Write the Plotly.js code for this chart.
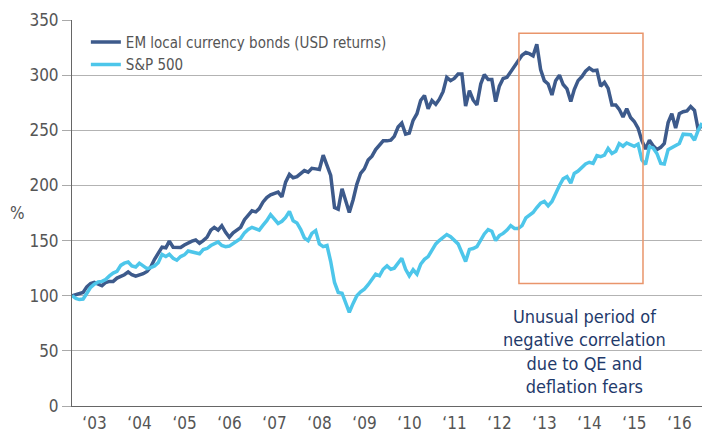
<!DOCTYPE html>
<html>
<head>
<meta charset="utf-8">
<script src="https://cdn.plot.ly/plotly-3.0.1.min.js"></script>
<style>html,body{margin:0;padding:0;background:#fff;}#chart{width:705px;height:434px;}</style>
</head>
<body>
<div id="chart"></div>
<script>
// Monthly index values, Jan 2003 = 100
const seriesNames = ['EM local currency bonds (USD returns)', 'S&P 500'];
const emBonds = [
  100, 101, 102, 103, 108, 111, 112, 110.5, 109, 112,
  113, 113, 116, 117.5, 119, 121.6, 119, 117.8, 118.5, 120,
  122, 126, 133, 138, 144, 143.5, 149.5, 144, 143.7, 143.7,
  146, 148, 149.5, 150.5, 147.5, 150, 153, 159.5, 162, 159.5,
  163.5, 157.5, 153, 157, 159.5,
  162, 169, 173, 177, 176,
  179, 185, 189, 191.5, 192.5, 194, 189.6, 203, 210, 207,
  208, 211, 213.5, 212, 215.5, 215, 214.5, 227.4, 219, 209,
  180, 178.5, 197, 186, 175.5, 187, 201, 211, 215, 223,
  226.5, 232.5, 236, 240.5, 240.4, 241, 244.5, 253, 256.5, 246.5,
  247.5, 259,
  265, 277, 281.5, 269.5, 277, 273.5, 278, 285,
  298, 295, 297, 301, 301, 272, 286, 277.5, 273, 292,
  300.5, 296, 296, 276, 290, 297, 298, 303, 307.5, 312,
  318, 320.5, 319.5, 317.5, 328, 305, 295, 292, 282,
  295, 300, 291.5, 287.5, 276, 287, 295, 298.5, 303.5, 306.5, 304,
  304.5, 290, 293.5, 288, 273, 273, 269, 262, 269.5, 261.6,
  258, 252, 240.5, 233, 241, 236, 232.5, 234.5, 238, 257,
  265, 252, 265, 266.8, 267.6, 271.5, 268, 250.5, 255
];
const sp500 = [
  100, 97.5, 96.5, 97, 102, 107.5, 110.5, 112.5, 113, 114.7,
  118, 120.5, 122, 127.5, 129.5, 130.5, 127, 126, 129.5, 127,
  124.6, 125.5, 127, 130, 137.5, 135.5, 137.5, 134, 132.2, 135.5,
  137, 140.5, 139.7, 138.5, 138, 141.9, 142.8, 145.5, 146.7, 148.8,
  145.5, 144.5, 145, 147.5, 149.7,
  152, 157, 160, 162, 161,
  159.5, 164, 168, 173.5, 170, 165.5, 167.5, 171, 176.5, 168,
  166, 160, 152.5, 150, 156.5, 159, 147, 144.5, 145.5, 131,
  112, 103, 102.3, 94, 85, 93, 100, 103.5, 106, 110,
  115, 119.5, 118, 124, 127, 124, 125, 130, 134, 124,
  118, 123.5,
  119.5, 128.5, 133, 135.5, 141.5, 147, 150, 152.5,
  155.5, 153.5, 150.5, 147, 139, 131, 142, 142.8, 144.5, 151,
  156, 160, 158.5, 150, 154.5, 156.5, 159.5, 163.5, 161, 161,
  163.5, 170.5, 172.5, 175.5, 180, 184, 185.5, 181.5, 185.5,
  193, 200, 206, 208, 202, 210.8, 213, 216, 219.5, 221, 220,
  227, 226, 227.5, 233.5, 229, 231, 238, 235.6, 238.5, 237,
  235.5, 237.5, 223, 219, 235, 234, 229, 220, 219.5, 232.5,
  234.5, 236, 238, 246.5, 246, 246, 241, 250, 256.5
];
const firstYear = 2003;
const yTickVals = [0, 50, 100, 150, 200, 250, 300, 350];
const annotationText = 'Unusual period of<br>negative correlation<br>due to QE and<br>deflation fears';
const yAxisLabel = '%';

const months = emBonds.map((_, i) => {
  const y = firstYear + Math.floor(i / 12);
  const m = (i % 12) + 1;
  return y + '-' + String(m).padStart(2, '0') + '-01';
});

const FONT = '"Liberation Sans Narrow", "DejaVu Sans Condensed", Arial, sans-serif';

const traces = [
  {x: months, y: emBonds, name: seriesNames[0], type: 'scatter', mode: 'lines',
   line: {color: '#3d5a8b', width: 3.5}},
  {x: months, y: sp500, name: seriesNames[1], type: 'scatter', mode: 'lines',
   line: {color: '#4dc6ea', width: 3.5}}
];

const layout = {
  width: 705, height: 434,
  margin: {l: 72, r: 3, t: 20, b: 28, pad: 0},
  paper_bgcolor: '#fff', plot_bgcolor: '#fff',
  font: {family: FONT, color: '#555', size: 17},
  showlegend: true,
  legend: {x: 0.022, y: 0.985, xanchor: 'left', yanchor: 'top', bgcolor: 'rgba(0,0,0,0)',
           font: {family: FONT, size: 15, color: '#555'}, tracegroupgap: 0},
  xaxis: {
    type: 'date', range: ['2003-01-01', '2017-01-01'],
    tick0: '2003-01-01', dtick: 'M12', tickformat: '\u2018%y', ticklabelmode: 'period',
    ticks: '', ticklen: 0, ticklabelstandoff: 2,
    minor: {ticks: 'outside', ticklen: 10, tickcolor: '#777', tickwidth: 1, dtick: 'M12', tick0: '2003-01-01', showgrid: false},
    showgrid: false, showline: true, linecolor: '#666', linewidth: 1,
    tickfont: {family: FONT, size: 17, color: '#555'}, zeroline: false, fixedrange: true
  },
  yaxis: {
    range: [0, 350], tickvals: yTickVals,
    ticks: 'outside', ticklen: 9, tickcolor: '#aaa', tickwidth: 1,
    showgrid: true, gridcolor: '#b3b3b3', gridwidth: 1,
    showline: true, linecolor: '#666', linewidth: 1, zeroline: false,
    tickfont: {family: FONT, size: 17, color: '#555'}, fixedrange: true
  },
  shapes: [{
    type: 'rect', xref: 'x', yref: 'y',
    x0: '2012-12-07', x1: '2015-09-10', y0: 111, y1: 338,
    line: {color: '#e9956b', width: 1.5}, fillcolor: 'rgba(0,0,0,0)'
  }],
  annotations: [
    {xref: 'paper', yref: 'paper', x: 0.814, y: 0.14, xanchor: 'center', yanchor: 'middle',
     text: annotationText, showarrow: false,
     align: 'center', font: {family: FONT, size: 18, color: '#1f3a6b'}},
    {xref: 'paper', yref: 'paper', x: -0.086, y: 0.5, xanchor: 'center', yanchor: 'middle',
     text: yAxisLabel, showarrow: false,
     font: {family: FONT, size: 17, color: '#555'}}
  ]
};

Plotly.newPlot('chart', traces, layout, {displayModeBar: false, staticPlot: true});
</script>
</body>
</html>
